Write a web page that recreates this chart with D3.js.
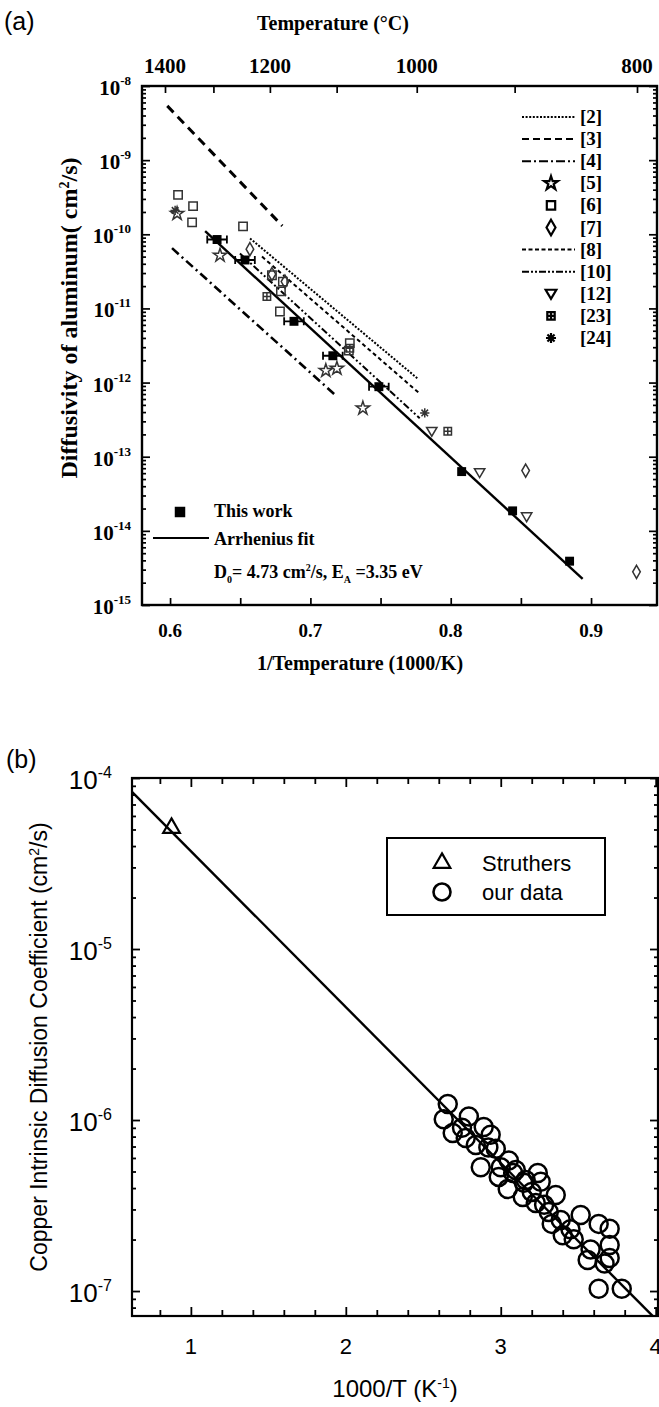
<!DOCTYPE html>
<html>
<head>
<meta charset="utf-8">
<script src="https://cdn.jsdelivr.net/npm/d3@7"></script>
<style>
  body { margin: 0; background: #fff; }
  svg { display: block; }
</style>
</head>
<body>
<svg id="chart" width="659" height="1407"></svg>
<script>
/* Two Arrhenius plots: (a) Al diffusivity, (b) Cu intrinsic diffusion */

// ---------- panel (a) data ----------
const thisWorkX = [0.6335, 0.6534, 0.6883, 0.7160, 0.7488, 0.8078, 0.8441, 0.8847];
const thisWorkY = [8.5e-11, 4.5e-11, 6.7e-12, 2.3e-12, 8.8e-13, 6.3e-14, 1.86e-14, 3.9e-15];
const fitX = [0.625, 0.894];
const fitY = [1.1e-10, 2.25e-15];

const ref5X = [0.605, 0.6356, 0.711, 0.7189, 0.7374];
const ref5Y = [1.9e-10, 5.2e-11, 1.45e-12, 1.55e-12, 4.5e-13];
const ref6X = [0.6057, 0.6164, 0.6157, 0.6520, 0.6726, 0.6804, 0.6790, 0.6783, 0.7281, 0.7274];
const ref6Y = [3.4e-10, 2.4e-10, 1.45e-10, 1.28e-10, 2.8e-11, 2.3e-11, 1.7e-11, 9.1e-12, 3.4e-12, 2.7e-12];
const ref7X = [0.6569, 0.6726, 0.6819, 0.8534, 0.9324];
const ref7Y = [6.3e-11, 2.9e-11, 2.3e-11, 6.5e-14, 2.8e-15];
const ref12X = [0.7865, 0.8206, 0.8541];
const ref12Y = [2.2e-13, 6.1e-14, 1.55e-14];
const ref23X = [0.669, 0.7281, 0.7979];
const ref23Y = [1.45e-11, 2.9e-12, 2.2e-13];
const ref24X = [0.6036, 0.7815];
const ref24Y = [2.1e-10, 3.9e-13];

// literature fits, two end points each
const ref2X = [0.657, 0.7765];  const ref2Y = [8.8e-11, 1.13e-12];
const ref3X = [0.598, 0.680];   const ref3Y = [5.4e-9, 1.3e-10];
const ref4X = [0.6014, 0.7189]; const ref4Y = [6.5e-11, 6.5e-13];
const ref8X = [0.6655, 0.7779]; const ref8Y = [5.0e-11, 7.1e-13];
const ref10X = [0.6498, 0.7779]; const ref10Y = [5.5e-11, 3.3e-13];

const legendLabels = ['[2]', '[3]', '[4]', '[5]', '[6]', '[7]', '[8]', '[10]', '[12]', '[23]', '[24]'];
const tempTicks = [1400, 1300, 1200, 1100, 1000, 900, 800];
const tempLabels = [1400, 1200, 1000, 800];
const invTTicks = [0.6, 0.65, 0.7, 0.75, 0.8, 0.85, 0.9];
const invTLabels = [0.6, 0.7, 0.8, 0.9];
const decadesA = [-15, -14, -13, -12, -11, -10, -9, -8];

// ---------- panel (b) data ----------
const struthersX = [0.875];
const struthersY = [5.1e-5];
const ourX = [2.658, 2.632, 2.690, 2.794, 2.890, 2.774, 2.839, 2.968, 2.871, 3.052, 2.987, 3.045,
  3.142, 3.239, 3.258, 3.226, 3.355, 3.310, 3.387, 3.329, 3.400, 3.471, 3.632, 3.703, 3.703,
  3.561, 3.703, 3.632, 3.781, 2.935, 3.097, 3.161, 3.516,
  2.75, 2.92, 3.0, 3.08, 3.15, 3.2, 3.28, 3.45, 3.58, 3.67];
const ourY = [1.24e-6, 1.01e-6, 8.4e-7, 1.05e-6, 9.1e-7, 7.85e-7, 7.15e-7, 6.8e-7, 5.3e-7, 5.8e-7,
  4.65e-7, 3.95e-7, 3.55e-7, 4.9e-7, 4.35e-7, 3.27e-7, 3.64e-7, 2.9e-7, 2.6e-7, 2.47e-7, 2.12e-7,
  2.01e-7, 2.47e-7, 2.31e-7, 1.86e-7, 1.52e-7, 1.56e-7, 1.03e-7, 1.03e-7, 8.2e-7, 5.1e-7, 4.46e-7, 2.78e-7,
  9.0e-7, 6.9e-7, 5.3e-7, 4.9e-7, 4.3e-7, 3.8e-7, 3.2e-7, 2.3e-7, 1.75e-7, 1.45e-7];
const lineBX = [0.62, 3.98];
const lineBY = [8.3e-5, 7.15e-8];
const bXTicks = [1, 2, 3, 4];
const decadesB = [-7, -6, -5, -4];

const svg = d3.select('#chart');
const serif = '"Liberation Serif", "Times New Roman", serif';
const sans = '"Liberation Sans", Arial, sans-serif';

// minor ticks for log axis
const logMinor = function (decs, lo, hi) {
  let out = [];
  decs.forEach(d => {
    for (let m = 2; m <= 9; m++) {
      let v = m * Math.pow(10, d);
      if (v > lo && v < hi) out.push(v);
    }
  });
  return out;
};

const zip = (xs, ys) => xs.map((x, i) => ({ x: x, y: ys[i] }));

/* ================= PANEL (a) ================= */
const A = { left: 142, right: 657, top: 86, bottom: 605 };
const xA = d3.scaleLinear().domain([0.58, 0.947]).range([A.left, A.right]);
const yA = d3.scaleLog().domain([1e-15, 1e-8]).range([A.bottom, A.top]);
// the original top axis is laid out as 1000/t with t in degrees C
const xTop = d3.scaleLinear().domain([1000 / 1400, 1000 / 800]).range([165, 637]);
const tToX = t => xTop(1000 / t);

const ga = svg.append('g');

ga.append('text').text('(a)')
  .attr('x', 4).attr('y', 30)
  .style('font-family', sans).style('font-size', '25px');

// axes with inward ticks
ga.append('g').attr('transform', `translate(${A.left},0)`)
  .call(d3.axisLeft(yA).tickValues(decadesA.map(d => Math.pow(10, d))).tickSize(-8).tickFormat(''));
ga.append('g').attr('transform', `translate(${A.left},0)`)
  .call(d3.axisLeft(yA).tickValues(logMinor(decadesA, 1e-15, 1e-8)).tickSize(-4).tickFormat(''));
ga.append('g').attr('transform', `translate(${A.right},0)`)
  .call(d3.axisRight(yA).tickValues(decadesA.map(d => Math.pow(10, d))).tickSize(-8).tickFormat(''));
ga.append('g').attr('transform', `translate(${A.right},0)`)
  .call(d3.axisRight(yA).tickValues(logMinor(decadesA, 1e-15, 1e-8)).tickSize(-4).tickFormat(''));
ga.append('g').attr('transform', `translate(0,${A.bottom})`)
  .call(d3.axisBottom(xA).tickValues(invTTicks).tickSize(-7).tickFormat(''));
ga.append('g').attr('transform', `translate(0,${A.top})`)
  .call(d3.axisTop(xTop).tickValues(tempTicks.map(t => 1000 / t)).tickSize(-7).tickFormat(''));
ga.selectAll('.domain').remove();
ga.selectAll('.tick line').attr('stroke', '#000').attr('stroke-width', 1.7);
ga.append('rect')
  .attr('x', A.left).attr('y', A.top)
  .attr('width', A.right - A.left).attr('height', A.bottom - A.top)
  .attr('fill', 'none').attr('stroke', '#000').attr('stroke-width', 2.4);

// tick labels
ga.selectAll('.ylabA').data(decadesA).enter().append('text')
  .attr('x', A.left - 11).attr('y', d => yA(Math.pow(10, d)) + 9)
  .attr('text-anchor', 'end')
  .style('font-family', serif).style('font-weight', 'bold').style('font-size', '21px')
  .each(function (d) {
    const t = d3.select(this);
    t.append('tspan').text('10');
    t.append('tspan').text('-' + Math.abs(d)).attr('dy', -10).style('font-size', '13px');
  });
ga.selectAll('.xlabA').data(invTLabels).enter().append('text')
  .attr('x', d => xA(d)).attr('y', A.bottom + 32)
  .attr('text-anchor', 'middle')
  .style('font-family', serif).style('font-weight', 'bold').style('font-size', '19px')
  .text(d => d.toFixed(1));
ga.selectAll('.tlabA').data(tempLabels).enter().append('text')
  .attr('x', d => tToX(d)).attr('y', A.top - 13)
  .attr('text-anchor', 'middle')
  .style('font-family', serif).style('font-weight', 'bold').style('font-size', '21px')
  .text(d => d);

ga.append('text').text('Temperature (°C)')
  .attr('x', 333).attr('y', 30).attr('text-anchor', 'middle')
  .style('font-family', serif).style('font-weight', 'bold').style('font-size', '20px');
ga.append('text').text('1/Temperature (1000/K)')
  .attr('x', 360).attr('y', 670).attr('text-anchor', 'middle')
  .style('font-family', serif).style('font-weight', 'bold').style('font-size', '20px');
const ytA = ga.append('text')
  .attr('transform', `translate(77,318) rotate(-90)`)
  .attr('text-anchor', 'middle')
  .style('font-family', serif).style('font-weight', 'bold').style('font-size', '24px');
ytA.append('tspan').text('Diffusivity of aluminum( cm');
ytA.append('tspan').text('2').attr('dy', -8).style('font-size', '14px');
ytA.append('tspan').text('/s)').attr('dy', 8);

// literature lines
const lineA = d3.line().x(d => xA(d.x)).y(d => yA(d.y));
const refLines = [
  { d: zip(ref2X, ref2Y), dash: '2,1.6', w: 2 },
  { d: zip(ref3X, ref3Y), dash: '9,6', w: 3 },
  { d: zip(ref4X, ref4Y), dash: '9,4,2,4', w: 2.6 },
  { d: zip(ref8X, ref8Y), dash: '4,3', w: 2 },
  { d: zip(ref10X, ref10Y), dash: '7,2.5,2,2.5,2,2.5', w: 2 }
];
ga.selectAll('.refline').data(refLines).enter().append('path')
  .attr('d', r => lineA(r.d))
  .attr('fill', 'none').attr('stroke', '#000')
  .attr('stroke-width', r => r.w).attr('stroke-dasharray', r => r.dash);

// Arrhenius fit
ga.append('path').attr('d', lineA(zip(fitX, fitY)))
  .attr('fill', 'none').attr('stroke', '#000').attr('stroke-width', 2.4);

// marker shapes
const triDown = {
  draw: function (ctx, size) {
    const s = Math.sqrt(size) * 0.62;
    ctx.moveTo(-s, -s * 0.75); ctx.lineTo(s, -s * 0.75); ctx.lineTo(0, s * 0.95); ctx.closePath();
  }
};
const boxPlus = {
  draw: function (ctx, size) {
    const s = Math.sqrt(size) / 2;
    ctx.moveTo(-s, -s); ctx.lineTo(s, -s); ctx.lineTo(s, s); ctx.lineTo(-s, s); ctx.closePath();
    ctx.moveTo(0, -s); ctx.lineTo(0, s); ctx.moveTo(-s, 0); ctx.lineTo(s, 0);
  }
};
const asterisk = {
  draw: function (ctx, size) {
    const s = Math.sqrt(size) * 0.6;
    for (let k = 0; k < 4; k++) {
      const a = k * Math.PI / 4;
      ctx.moveTo(-s * Math.cos(a), -s * Math.sin(a)); ctx.lineTo(s * Math.cos(a), s * Math.sin(a));
    }
  }
};
const markerSets = [
  { d: zip(ref5X, ref5Y), type: d3.symbolStar, size: 55 },
  { d: zip(ref6X, ref6Y), type: d3.symbolSquare, size: 70 },
  { d: zip(ref7X, ref7Y), type: d3.symbolDiamond, size: 50 },
  { d: zip(ref12X, ref12Y), type: triDown, size: 70 },
  { d: zip(ref23X, ref23Y), type: boxPlus, size: 55 },
  { d: zip(ref24X, ref24Y), type: asterisk, size: 60 }
];
markerSets.forEach(m => {
  ga.selectAll(null).data(m.d).enter().append('path')
    .attr('transform', p => `translate(${xA(p.x)},${yA(p.y)})`)
    .attr('d', d3.symbol().type(m.type).size(m.size))
    .attr('fill', 'none').attr('stroke', '#333').attr('stroke-width', 1.5);
});

// this work: filled squares with horizontal error bars
const tw = zip(thisWorkX, thisWorkY);
ga.selectAll('.twerr').data(tw.slice(0, 5)).enter().append('path')
  .attr('d', p => {
    const x0 = xA(p.x - 0.007), x1 = xA(p.x + 0.007), y = yA(p.y);
    return `M${x0},${y}H${x1}M${x0},${y - 4}V${y + 4}M${x1},${y - 4}V${y + 4}`;
  })
  .attr('fill', 'none').attr('stroke', '#000').attr('stroke-width', 1.8);
ga.selectAll('.tw').data(tw).enter().append('path')
  .attr('transform', p => `translate(${xA(p.x)},${yA(p.y)})`)
  .attr('d', d3.symbol().type(d3.symbolSquare).size(80))
  .attr('fill', '#000');

// reference legend (top right)
const legTypes = ['line', 'line', 'line', d3.symbolStar, d3.symbolSquare, d3.symbolDiamond, 'line', 'line', triDown, boxPlus, asterisk];
const legSize = [0, 0, 0, 60, 70, 70, 0, 0, 75, 55, 70];
const legDash = ['2,1.6', '7,4', '9,3,2,3', null, null, null, '4,2.5', '7,2,2,2,2,2', null, null, null];
const leg = ga.selectAll('.leg').data(legendLabels).enter().append('g')
  .attr('transform', (d, i) => `translate(0,${117 + i * 22.1})`);
leg.each(function (d, i) {
  const g = d3.select(this);
  if (legTypes[i] === 'line') {
    g.append('line').attr('x1', 522).attr('x2', 575).attr('y1', 0).attr('y2', 0)
      .attr('stroke', '#000').attr('stroke-width', 2).attr('stroke-dasharray', legDash[i]);
  } else {
    g.append('path').attr('transform', 'translate(551,0)')
      .attr('d', d3.symbol().type(legTypes[i]).size(legSize[i]))
      .attr('fill', 'none').attr('stroke', '#000').attr('stroke-width', 2.2);
  }
  g.append('text').text(d).attr('x', 580).attr('y', 6)
    .style('font-family', serif).style('font-weight', 'bold').style('font-size', '19px');
});

// this work legend (bottom left)
ga.append('path').attr('transform', 'translate(180,512)')
  .attr('d', d3.symbol().type(d3.symbolSquare).size(110)).attr('fill', '#000');
ga.append('text').text('This work').attr('x', 214).attr('y', 517)
  .style('font-family', serif).style('font-weight', 'bold').style('font-size', '18px');
ga.append('line').attr('x1', 153).attr('x2', 209).attr('y1', 538).attr('y2', 538)
  .attr('stroke', '#000').attr('stroke-width', 2);
ga.append('text').text('Arrhenius fit').attr('x', 214).attr('y', 545)
  .style('font-family', serif).style('font-weight', 'bold').style('font-size', '18px');
const eqA = ga.append('text').attr('x', 214).attr('y', 578)
  .style('font-family', serif).style('font-weight', 'bold').style('font-size', '18px');
eqA.append('tspan').text('D');
eqA.append('tspan').text('0').attr('dy', 5).style('font-size', '10px');
eqA.append('tspan').text('= 4.73 cm').attr('dy', -5);
eqA.append('tspan').text('2').attr('dy', -7).style('font-size', '10px');
eqA.append('tspan').text('/s, E').attr('dy', 7);
eqA.append('tspan').text('A').attr('dy', 5).style('font-size', '10px');
eqA.append('tspan').text(' =3.35 eV').attr('dy', -5);

/* ================= PANEL (b) ================= */
const B = { left: 132, right: 658, top: 778, bottom: 1316 };
const xB = d3.scaleLinear().domain([0.62, 4.015]).range([B.left, B.right]);
const yB = d3.scaleLog().domain([Math.pow(10, -7.146), 1e-4]).range([B.bottom, B.top]);

const gb = svg.append('g');
gb.append('text').text('(b)')
  .attr('x', 6).attr('y', 768)
  .style('font-family', sans).style('font-size', '25px');

const bMinorX = d3.range(0.8, 4.01, 0.2).filter(v => Math.abs(v - Math.round(v)) > 0.01);
gb.append('g').attr('transform', `translate(0,${B.bottom})`)
  .call(d3.axisBottom(xB).tickValues(bXTicks).tickSize(-9).tickFormat(''));
gb.append('g').attr('transform', `translate(0,${B.bottom})`)
  .call(d3.axisBottom(xB).tickValues(bMinorX).tickSize(-6).tickFormat(''));
gb.append('g').attr('transform', `translate(0,${B.top})`)
  .call(d3.axisTop(xB).tickValues(bXTicks).tickSize(-9).tickFormat(''));
gb.append('g').attr('transform', `translate(0,${B.top})`)
  .call(d3.axisTop(xB).tickValues(bMinorX).tickSize(-6).tickFormat(''));
gb.append('g').attr('transform', `translate(${B.left},0)`)
  .call(d3.axisLeft(yB).tickValues(decadesB.map(d => Math.pow(10, d))).tickSize(-8).tickFormat(''));
gb.append('g').attr('transform', `translate(${B.left},0)`)
  .call(d3.axisLeft(yB).tickValues(logMinor([-8, -7, -6, -5], yB.domain()[0], 1e-4)).tickSize(-4).tickFormat(''));
gb.append('g').attr('transform', `translate(${B.right},0)`)
  .call(d3.axisRight(yB).tickValues(decadesB.map(d => Math.pow(10, d))).tickSize(-8).tickFormat(''));
gb.append('g').attr('transform', `translate(${B.right},0)`)
  .call(d3.axisRight(yB).tickValues(logMinor([-8, -7, -6, -5], yB.domain()[0], 1e-4)).tickSize(-4).tickFormat(''));
gb.selectAll('.domain').remove();
gb.selectAll('.tick line').attr('stroke', '#000').attr('stroke-width', 1.8);
gb.append('rect')
  .attr('x', B.left).attr('y', B.top)
  .attr('width', B.right - B.left).attr('height', B.bottom - B.top)
  .attr('fill', 'none').attr('stroke', '#000').attr('stroke-width', 2.2);

gb.selectAll('.ylabB').data(decadesB).enter().append('text')
  .attr('x', B.left - 20).attr('y', d => yB(Math.pow(10, d)) + 11)
  .attr('text-anchor', 'end')
  .style('font-family', sans).style('font-size', '26px')
  .each(function (d) {
    const t = d3.select(this);
    t.append('tspan').text('10');
    t.append('tspan').text('-' + Math.abs(d)).attr('dy', -11).style('font-size', '16px');
  });
gb.selectAll('.xlabB').data(bXTicks).enter().append('text')
  .attr('x', d => xB(d)).attr('y', B.bottom + 38)
  .attr('text-anchor', 'middle')
  .style('font-family', sans).style('font-size', '22px')
  .text(d => d);

const xtB = gb.append('text').attr('x', 395).attr('y', 1397).attr('text-anchor', 'middle')
  .style('font-family', sans).style('font-size', '24px');
xtB.append('tspan').text('1000/T  (K');
xtB.append('tspan').text('-1').attr('dy', -9).style('font-size', '14px');
xtB.append('tspan').text(')').attr('dy', 9);

const ytB = gb.append('text')
  .attr('transform', `translate(47,${(B.top + B.bottom) / 2}) rotate(-90)`)
  .attr('text-anchor', 'middle')
  .style('font-family', sans).style('font-size', '23px');
ytB.append('tspan').text('Copper Intrinsic Diffusion Coefficient (cm');
ytB.append('tspan').text('2').attr('dy', -8).style('font-size', '14px');
ytB.append('tspan').text('/s)').attr('dy', 8);

// fit line
const lineB = d3.line().x(d => xB(d.x)).y(d => yB(d.y));
gb.append('path').attr('d', lineB(zip(lineBX, lineBY)))
  .attr('fill', 'none').attr('stroke', '#000').attr('stroke-width', 2.4);

// data
gb.selectAll('.our').data(zip(ourX, ourY)).enter().append('circle')
  .attr('cx', p => xB(p.x)).attr('cy', p => yB(p.y)).attr('r', 9)
  .attr('fill', 'none').attr('stroke', '#000').attr('stroke-width', 2.5);
gb.selectAll('.str').data(zip(struthersX, struthersY)).enter().append('path')
  .attr('transform', p => `translate(${xB(p.x)},${yB(p.y)})`)
  .attr('d', d3.symbol().type(d3.symbolTriangle).size(120))
  .attr('fill', 'none').attr('stroke', '#000').attr('stroke-width', 2.2);

// legend box
gb.append('rect').attr('x', 387).attr('y', 838).attr('width', 218).attr('height', 77)
  .attr('fill', '#fff').attr('stroke', '#000').attr('stroke-width', 2);
gb.append('path').attr('transform', 'translate(442,863)')
  .attr('d', d3.symbol().type(d3.symbolTriangle).size(120))
  .attr('fill', 'none').attr('stroke', '#000').attr('stroke-width', 2.2);
gb.append('circle').attr('cx', 442).attr('cy', 892).attr('r', 8.5)
  .attr('fill', 'none').attr('stroke', '#000').attr('stroke-width', 2.6);
gb.append('text').text('Struthers').attr('x', 482).attr('y', 871)
  .style('font-family', sans).style('font-size', '22px');
gb.append('text').text('our data').attr('x', 482).attr('y', 900)
  .style('font-family', sans).style('font-size', '22px');
</script>
</body>
</html>
